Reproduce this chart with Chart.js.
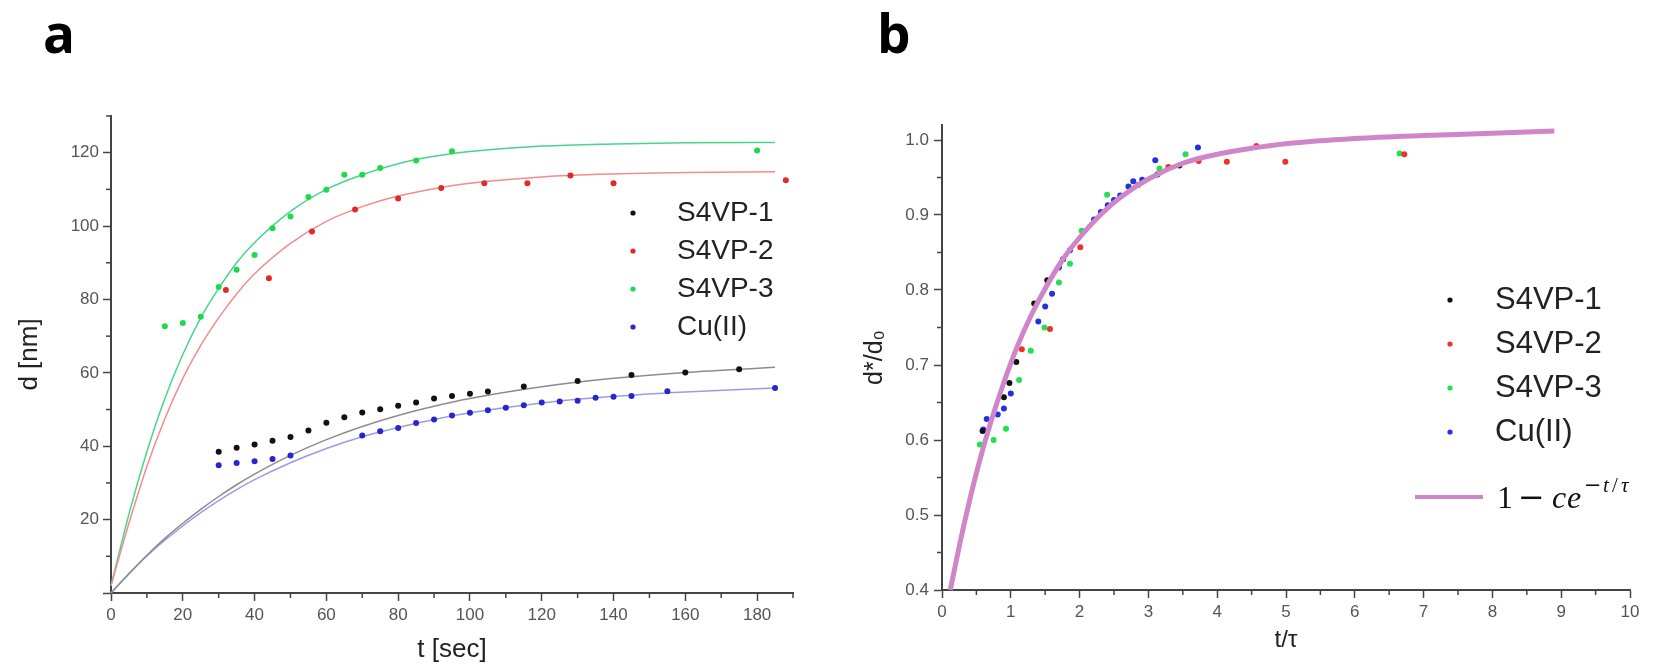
<!DOCTYPE html>
<html><head><meta charset="utf-8">
<script src="https://cdn.jsdelivr.net/npm/chart.js@4.4.0/dist/chart.umd.min.js"></script>
<style>
html,body{margin:0;padding:0;background:#fff;width:1653px;height:667px;overflow:hidden}
canvas{position:absolute;top:0}
#ca{left:0}
#cb{left:830px}
</style></head><body>
<canvas id="ca" width="830" height="667"></canvas>
<canvas id="cb" width="823" height="667"></canvas>
<script>
// ---------- Panel a : d [nm] vs t [sec] ----------
const s1T = [30,35,40,45,50,55,60,65,70,75,80,85,90,95,100,105,115,130,145,160,175];
const s1D = [38.5,39.6,40.5,41.5,42.5,44.3,46.4,47.9,49.2,50.1,51.0,51.9,53.0,53.7,54.3,54.9,56.3,57.8,59.4,60.1,61.0];
const s2T = [32,44,56,68,80,92,104,116,128,140,188];
const s2D = [82.6,85.8,98.5,104.5,107.5,110.4,111.7,111.7,113.8,111.7,112.5];
const s3T = [15,20,25,30,35,40,45,50,55,60,65,70,75,85,95,180];
const s3D = [72.7,73.6,75.3,83.4,88.1,92.1,99.4,102.6,107.9,109.9,114.0,114.0,115.8,117.9,120.4,120.6];
const cuT = [30,35,40,45,50,70,75,80,85,90,95,100,105,110,115,120,125,130,135,140,145,155,185];
const cuD = [34.8,35.4,35.9,36.5,37.5,42.9,44.1,45.0,46.3,47.3,48.4,49.1,49.8,50.5,51.2,51.9,52.2,52.4,53.2,53.5,53.7,55.0,55.9];
// fitted curves
const fitT  = [0,5,10,15,20,25,30,35,40,50,60,70,80,90,100,120,140,160,185];
const fit1D = [0,5.3,10.3,14.9,19,22.8,26.3,29.5,32.4,37.5,41.8,45.4,48.4,50.9,53,56.2,58.5,60.1,61.5];
const fit2D = [2,19,34.5,47.5,58.5,67.5,75,81.5,87,95.3,101.3,105.3,108.2,110.2,111.7,113.4,114.2,114.6,114.8];
const fit3D = [2,21.5,38.5,53,65,75,83,90,95.5,104,110,114,117,119,120.3,121.8,122.4,122.7,122.8];
const fitCuD= [0,5.2,10.1,14.4,18.3,21.9,25.2,28.2,30.9,35.5,39.4,42.6,45.1,47.3,49.1,51.8,53.6,54.8,55.9];
const aXMinor = [10,30,50,70,90,110,130,150,170,190];
const aYMinor = [10,30,50,70,90,110,130];

// ---------- Panel b : d*/d0 vs t/tau ----------
const b1T = [0.59,0.90,0.98,1.08,1.34,1.53,1.76,3.13,3.45];
const b1D = [0.612,0.657,0.676,0.704,0.782,0.813,0.841,0.954,0.966];
const b2T = [1.16,1.57,2.01,2.85,3.29,3.73,4.14,4.57,4.99,6.72];
const b2D = [0.721,0.748,0.857,0.940,0.964,0.972,0.971,0.992,0.971,0.981];
const b3T = [0.55,0.75,0.93,1.12,1.29,1.49,1.70,1.86,2.03,2.40,3.16,3.54,6.65];
const b3D = [0.594,0.600,0.615,0.680,0.719,0.750,0.810,0.835,0.879,0.927,0.962,0.981,0.982];
const bCuT = [0.60,0.65,0.81,0.90,1.00,1.40,1.50,1.60,1.70,1.86,2.21,2.31,2.41,2.50,2.59,2.71,2.78,2.91,3.10,3.72];
const bCuD = [0.614,0.628,0.634,0.642,0.662,0.758,0.778,0.795,0.830,0.853,0.894,0.904,0.913,0.920,0.926,0.938,0.945,0.947,0.973,0.990];
const curveT = [0.12,0.3,0.5,0.7,0.9,1.1,1.3,1.5,1.75,2.0,2.3,2.6,3.0,3.5,4.0,4.5,5.0,6.0,7.0,8.0,8.9];
const curveD = [0.400,0.479,0.556,0.621,0.677,0.726,0.767,0.802,0.840,0.870,0.900,0.924,0.948,0.969,0.981,0.989,0.995,1.002,1.006,1.009,1.012];
const bXMinor = [0.5,1.5,2.5,3.5,4.5,5.5,6.5,7.5,8.5,9.5];
const bYMinor = [0.45,0.55,0.65,0.75,0.85,0.95];

const pts = (xs, ys) => xs.map((x, i) => ({x, y: ys[i]}));
Chart.defaults.font.family = '"Liberation Sans", Arial, sans-serif';
Chart.defaults.color = '#555';

const minorTicks = {
  id: 'minorTicks',
  afterDraw(chart, args, o) {
    const ctx = chart.ctx, xs = chart.scales.x, ys = chart.scales.y;
    ctx.save(); ctx.strokeStyle = '#444'; ctx.lineWidth = 1.5;
    o.x.forEach(v => { const p = xs.getPixelForValue(v); ctx.beginPath(); ctx.moveTo(p, xs.top); ctx.lineTo(p, xs.top + 5); ctx.stroke(); });
    o.y.forEach(v => { const p = ys.getPixelForValue(v); ctx.beginPath(); ctx.moveTo(ys.right, p); ctx.lineTo(ys.right - 5, p); ctx.stroke(); });
    ctx.restore();
  }
};

const customLegend = {
  id: 'customLegend',
  afterDraw(chart, args, o) {
    const ctx = chart.ctx;
    ctx.save();
    // panel letter
    ctx.fillStyle = '#000'; ctx.font = 'bold 53px "Open Sans", sans-serif';
    ctx.textBaseline = 'alphabetic'; ctx.textAlign = 'left';
    ctx.fillText(o.letter, o.letterX, 53);
    ctx.font = o.fontSize + 'px "Liberation Sans", Arial, sans-serif';
    ctx.textBaseline = 'middle';
    let y = o.y0;
    chart.data.datasets.filter(d => d.inLegend).forEach(d => {
      ctx.fillStyle = d.backgroundColor;
      ctx.beginPath(); ctx.arc(o.mx, y, 2.6, 0, Math.PI * 2); ctx.fill();
      ctx.fillStyle = '#222';
      ctx.fillText(d.label, o.tx, y);
      y += o.dy;
    });
    if (o.formula) {
      const f = o.formula, fy = f.y;
      const ds = chart.data.datasets.find(d => d.isFormula);
      ctx.strokeStyle = ds.borderColor; ctx.lineWidth = 4;
      ctx.beginPath(); ctx.moveTo(f.x0, fy); ctx.lineTo(f.x1, fy); ctx.stroke();
      ctx.fillStyle = '#111'; ctx.textBaseline = 'alphabetic';
      const x = f.x1 + 14, base = fy + 11, sup = fy - 5;
      const put = (txt, font, dx, by) => { ctx.font = font; ctx.fillText(txt, x + dx, by); };
      put('1', '32px "Liberation Serif", serif', 0, base);
      put('\u2212', '32px "DejaVu Serif", serif', 21, base);
      put('c', 'italic 32px "Liberation Serif", serif', 55, base);
      put('e', 'italic 32px "Liberation Serif", serif', 70, base);
      put('\u2212', '21px "DejaVu Serif", serif', 87, sup);
      put('t', 'italic 21px "Liberation Serif", serif', 106, sup);
      put('/', '21px "Liberation Serif", serif', 115, sup);
      put('\u03c4', 'italic 21px "Liberation Serif", serif', 124, sup);
    }
    ctx.restore();
  }
};

function axis(opts) {
  return Object.assign({
    type: 'linear',
    grid: { drawOnChartArea: false, drawTicks: true, tickLength: 8, tickColor: '#444', tickWidth: 1.5 },
    border: { display: true, color: '#444', width: 2 },
  }, opts);
}

// ---------- Chart a ----------
new Chart(document.getElementById('ca'), {
  type: 'scatter',
  data: { datasets: [
    { label: 'S4VP-1', inLegend: true, data: pts(s1T, s1D), backgroundColor: '#111', borderColor: '#111', pointRadius: 3, borderWidth: 0, order: 1 },
    { label: 'S4VP-2', inLegend: true, data: pts(s2T, s2D), backgroundColor: '#e02a2a', borderColor: '#e02a2a', pointRadius: 3, borderWidth: 0, order: 1 },
    { label: 'S4VP-3', inLegend: true, data: pts(s3T, s3D), backgroundColor: '#1fd84c', borderColor: '#1fd84c', pointRadius: 3, borderWidth: 0, order: 1 },
    { label: 'Cu(II)', inLegend: true, data: pts(cuT, cuD), backgroundColor: '#2626cc', borderColor: '#2626cc', pointRadius: 3, borderWidth: 0, order: 1 },
    { label: 'fit S4VP-1', data: pts(fitT, fit1D), showLine: true, pointRadius: 0, borderColor: '#8c8c8c', borderWidth: 1.5, cubicInterpolationMode: 'monotone', order: 2 },
    { label: 'fit S4VP-2', data: pts(fitT, fit2D), showLine: true, pointRadius: 0, borderColor: '#f28c8c', borderWidth: 1.5, cubicInterpolationMode: 'monotone', order: 2 },
    { label: 'fit S4VP-3', data: pts(fitT, fit3D), showLine: true, pointRadius: 0, borderColor: '#45d68a', borderWidth: 1.5, cubicInterpolationMode: 'monotone', order: 2 },
    { label: 'fit Cu(II)', data: pts(fitT, fitCuD), showLine: true, pointRadius: 0, borderColor: '#9c9ce6', borderWidth: 1.5, cubicInterpolationMode: 'monotone', order: 2 },
  ]},
  options: {
    responsive: false, animation: false, clip: false,
    layout: { padding: { left: 0, top: 116, right: 37, bottom: 0 } },
    plugins: {
      legend: { display: false }, tooltip: { enabled: false },
      minorTicks: { x: aXMinor, y: aYMinor },
      customLegend: { letter: 'a', letterX: 43, fontSize: 28, mx: 633, tx: 677, y0: 213, dy: 38 }
    },
    scales: {
      x: axis({ min: 0, max: 190, afterFit: s => { s.height = 74; },
        ticks: { stepSize: 20, includeBounds: false, padding: 4, font: { size: 17 }, color: '#555' },
        title: { display: true, text: 't [sec]', font: { size: 26 }, color: '#222', padding: { top: 0, bottom: 2 } } }),
      y: axis({ min: 0, max: 130, afterFit: s => { s.width = 111; },
        ticks: { stepSize: 20, includeBounds: false, padding: 4, font: { size: 17 }, color: '#555', callback: v => v === 0 ? '' : v },
        title: { display: true, text: 'd [nm]', font: { size: 26 }, color: '#222', padding: { top: 14, bottom: 0 } } })
    }
  },
  plugins: [minorTicks, customLegend]
});

// ---------- Chart b ----------
new Chart(document.getElementById('cb'), {
  type: 'scatter',
  data: { datasets: [
    { label: '1 \u2212 ce^(\u2212t/\u03c4)', isFormula: true, data: pts(curveT, curveD), showLine: true, pointRadius: 0, borderColor: '#cf86c9', borderWidth: 5, cubicInterpolationMode: 'monotone', order: 0 },
    { label: 'S4VP-1', inLegend: true, data: pts(b1T, b1D), backgroundColor: '#111', borderColor: '#111', pointRadius: 3, borderWidth: 0, order: 1 },
    { label: 'S4VP-2', inLegend: true, data: pts(b2T, b2D), backgroundColor: '#f03030', borderColor: '#f03030', pointRadius: 3, borderWidth: 0, order: 1 },
    { label: 'S4VP-3', inLegend: true, data: pts(b3T, b3D), backgroundColor: '#22e050', borderColor: '#22e050', pointRadius: 3, borderWidth: 0, order: 1 },
    { label: 'Cu(II)', inLegend: true, data: pts(bCuT, bCuD), backgroundColor: '#2233dd', borderColor: '#2233dd', pointRadius: 3, borderWidth: 0, order: 1 },
  ]},
  options: {
    responsive: false, animation: false, clip: false,
    layout: { padding: { left: 0, top: 125, right: 23, bottom: 0 } },
    plugins: {
      legend: { display: false }, tooltip: { enabled: false },
      minorTicks: { x: bXMinor, y: bYMinor },
      customLegend: { letter: 'b', letterX: 47, fontSize: 31, mx: 620, tx: 665, y0: 300, dy: 44,
        formula: { x0: 585, x1: 653, y: 497 } }
    },
    scales: {
      x: axis({ min: 0, max: 10, afterFit: s => { s.height = 77; },
        ticks: { stepSize: 1, includeBounds: false, padding: 4, font: { size: 17 }, color: '#555' },
        title: { display: true, text: 't/\u03c4', font: { size: 24 }, color: '#222', padding: { top: 0, bottom: 12 } } }),
      y: axis({ min: 0.4, max: 1.02, afterFit: s => { s.width = 112; },
        ticks: { stepSize: 0.1, includeBounds: false, padding: 5, font: { size: 17 }, color: '#555', callback: v => Number(v).toFixed(1) },
        title: { display: true, text: 'd*/d\u2080', font: { size: 25 }, color: '#222', padding: { top: 30, bottom: 0 } } })
    }
  },
  plugins: [minorTicks, customLegend]
});
</script>
</body></html>
